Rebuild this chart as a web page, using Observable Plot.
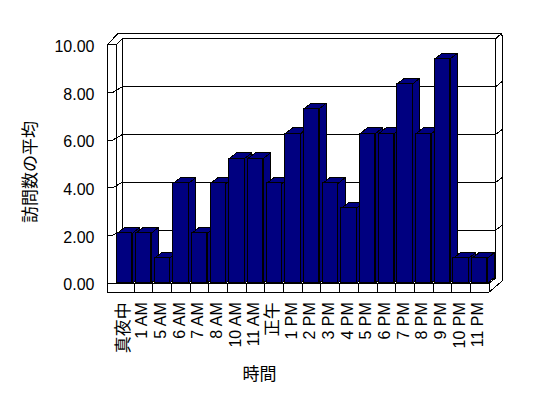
<!DOCTYPE html>
<html><head><meta charset="utf-8">
<script src="https://cdn.jsdelivr.net/npm/d3@7"></script>
<script src="https://cdn.jsdelivr.net/npm/@observablehq/plot@0.6"></script>
<style>html,body{margin:0;padding:0;background:#fff} svg{display:block}</style>
</head><body><div id="chart"></div>
<script>
// ---- data ----
const hours = ["真夜中","1 AM","5 AM","6 AM","7 AM","8 AM","10 AM","11 AM","正午","1 PM","2 PM","3 PM","4 PM","5 PM","6 PM","7 PM","8 PM","9 PM","10 PM","11 PM"];
const visits = [2,2,1,4,2,4,5,5,4,6,7,4,3,6,6,8,6,9,1,1];
const yTicks = [0,2,4,6,8,10];
const xTitle = "時間";
const yTitle = "訪問数の平均";

// ---- 3D layout (in scale units) ----
const N = hours.length;
const FONT = "'Liberation Sans', Arial, 'Noto Sans CJK JP', sans-serif";
const BAR_PAD = 0.09, BDX = 0.385, BDY = 0.225;          // bar gap and bar depth
const xLo = -0.43, xLi = 0.03, xBL = 0.36, xBR = 20.34 * N / 20, xRo = 20.73 * N / 20, xRd = 20.65 * N / 20, xTo = 0.11, xTk = -0.16;
const yFb = -0.369, yBb = 0.193, yBt = 9.807, yOt = 10.008, yFt = 9.566, yRc = 9.88, yRb = 0.1;
const front = v => 0.956 * v;            // left-wall front edge
const back = v => 0.193 + 0.9614 * v;    // back wall

const isCJK = s => /[\u3000-\u9fff]/.test(s);

// wall silhouette
const wall = [[xLo,yFb],[xLo,yFt],[xTo,yOt],[xRd,yOt],[xRo,yRc],[xRo,yRb],[N,yFb],[xLo,yFb]]
  .map(([x,y]) => ({id:"wall", x, y}));
// inner edges
const segs = [
  [xLi,yFt,xLi,0],[xLo,yFt,xLi,yFt],[xLi,yFt,xBL,yBt],
  [xBL,yBt,xBR,yBt],[xBR,yBt,xBR,yBb],[xBL,yBt,xBL,yBb],[xBL,yBb,xBR,yBb],
  [xLi,0,xBL,yBb],[xBR,yBt,xRd,yOt],
  [xLo,0,N,0],[N,0,xBR,yBb]
].map(([x1,y1,x2,y2]) => ({x1,y1,x2,y2}));
const dividers = d3.range(1, N + 1).map(i => ({x1:i, y1:yFb, x2:i, y2:0}));
// gridlines
const grid = yTicks.slice(1, -1).flatMap(v => [
  [xLo, front(v)],[xTk, front(v)],[xBL, back(v)],[xBR, back(v)],[xRo, back(v) + 0.22]
].map(([x,y]) => ({id:v, x, y})));

// bar faces
const bars = visits.map((v,i) => ({i, v, x1: i + BAR_PAD, x2: i + 1 - BAR_PAD}));
const sides = bars.flatMap(b => [
  [b.x2,0],[b.x2+BDX,BDY],[b.x2+BDX,b.v+BDY],[b.x2,b.v],[b.x2,0]
].map(([x,y]) => ({id:b.i, x, y})));
const tops = bars.flatMap(b => [
  [b.x1,b.v],[b.x2,b.v],[b.x2+BDX,b.v+BDY],[b.x1+BDX,b.v+BDY],[b.x1,b.v]
].map(([x,y]) => ({id:b.i, x, y})));

const NAVY = "#000080";

const chart = Plot.plot({
  width: 548, height: 398, margin: 0,
  style: {fontFamily: FONT, background: "#fff", shapeRendering: "crispEdges"},
  x: {domain: [0, N], range: [115, 488.6], axis: null},
  y: {domain: [0, 10], range: [282.5, 33.5], axis: null},
  marks: [
    Plot.line(wall, {x:"x", y:"y", z:"id", fill:"white", stroke:"black", strokeWidth:1}),
    Plot.link(segs, {x1:"x1", y1:"y1", x2:"x2", y2:"y2", stroke:"black", strokeWidth:1}),
    Plot.link(dividers, {x1:"x1", y1:"y1", x2:"x2", y2:"y2", stroke:"black", strokeWidth:1}),
    Plot.line(grid, {x:"x", y:"y", z:"id", stroke:"black", strokeWidth:1}),
    Plot.line(sides, {x:"x", y:"y", z:"id", fill:NAVY, stroke:"black", strokeWidth:1}),
    Plot.line(tops, {x:"x", y:"y", z:"id", fill:NAVY, stroke:"black", strokeWidth:1}),
    Plot.rect(bars, {x1:"x1", x2:"x2", y1:() => 0, y2:"v", fill:NAVY, stroke:"black", strokeWidth:1}),
    Plot.text(yTicks, {x: () => xLo, y: v => front(v), text: v => v.toFixed(2), textAnchor:"end", dx:-13, dy:2, fontSize:16, fill:"black"}),
    Plot.text(hours, {x: (d,i) => i + 0.5, y: () => yFb, text: d => d, rotate:-90, textAnchor:"end", lineAnchor:"middle", dx:-1.5, dy:10, fontSize: d => isCJK(d) ? 17 : 16, fill:"black"}),
    Plot.text([xTitle], {frameAnchor:"top-left", textAnchor:"middle", lineAnchor:"middle", dx:259, dy:374, fontSize:17, fill:"black"}),
    Plot.text([yTitle], {frameAnchor:"top-left", textAnchor:"middle", lineAnchor:"middle", dx:30, dy:171.5, rotate:-90, fontSize:17, fill:"black"})
  ]
});
document.getElementById("chart").appendChild(chart);
</script>
</body></html>
